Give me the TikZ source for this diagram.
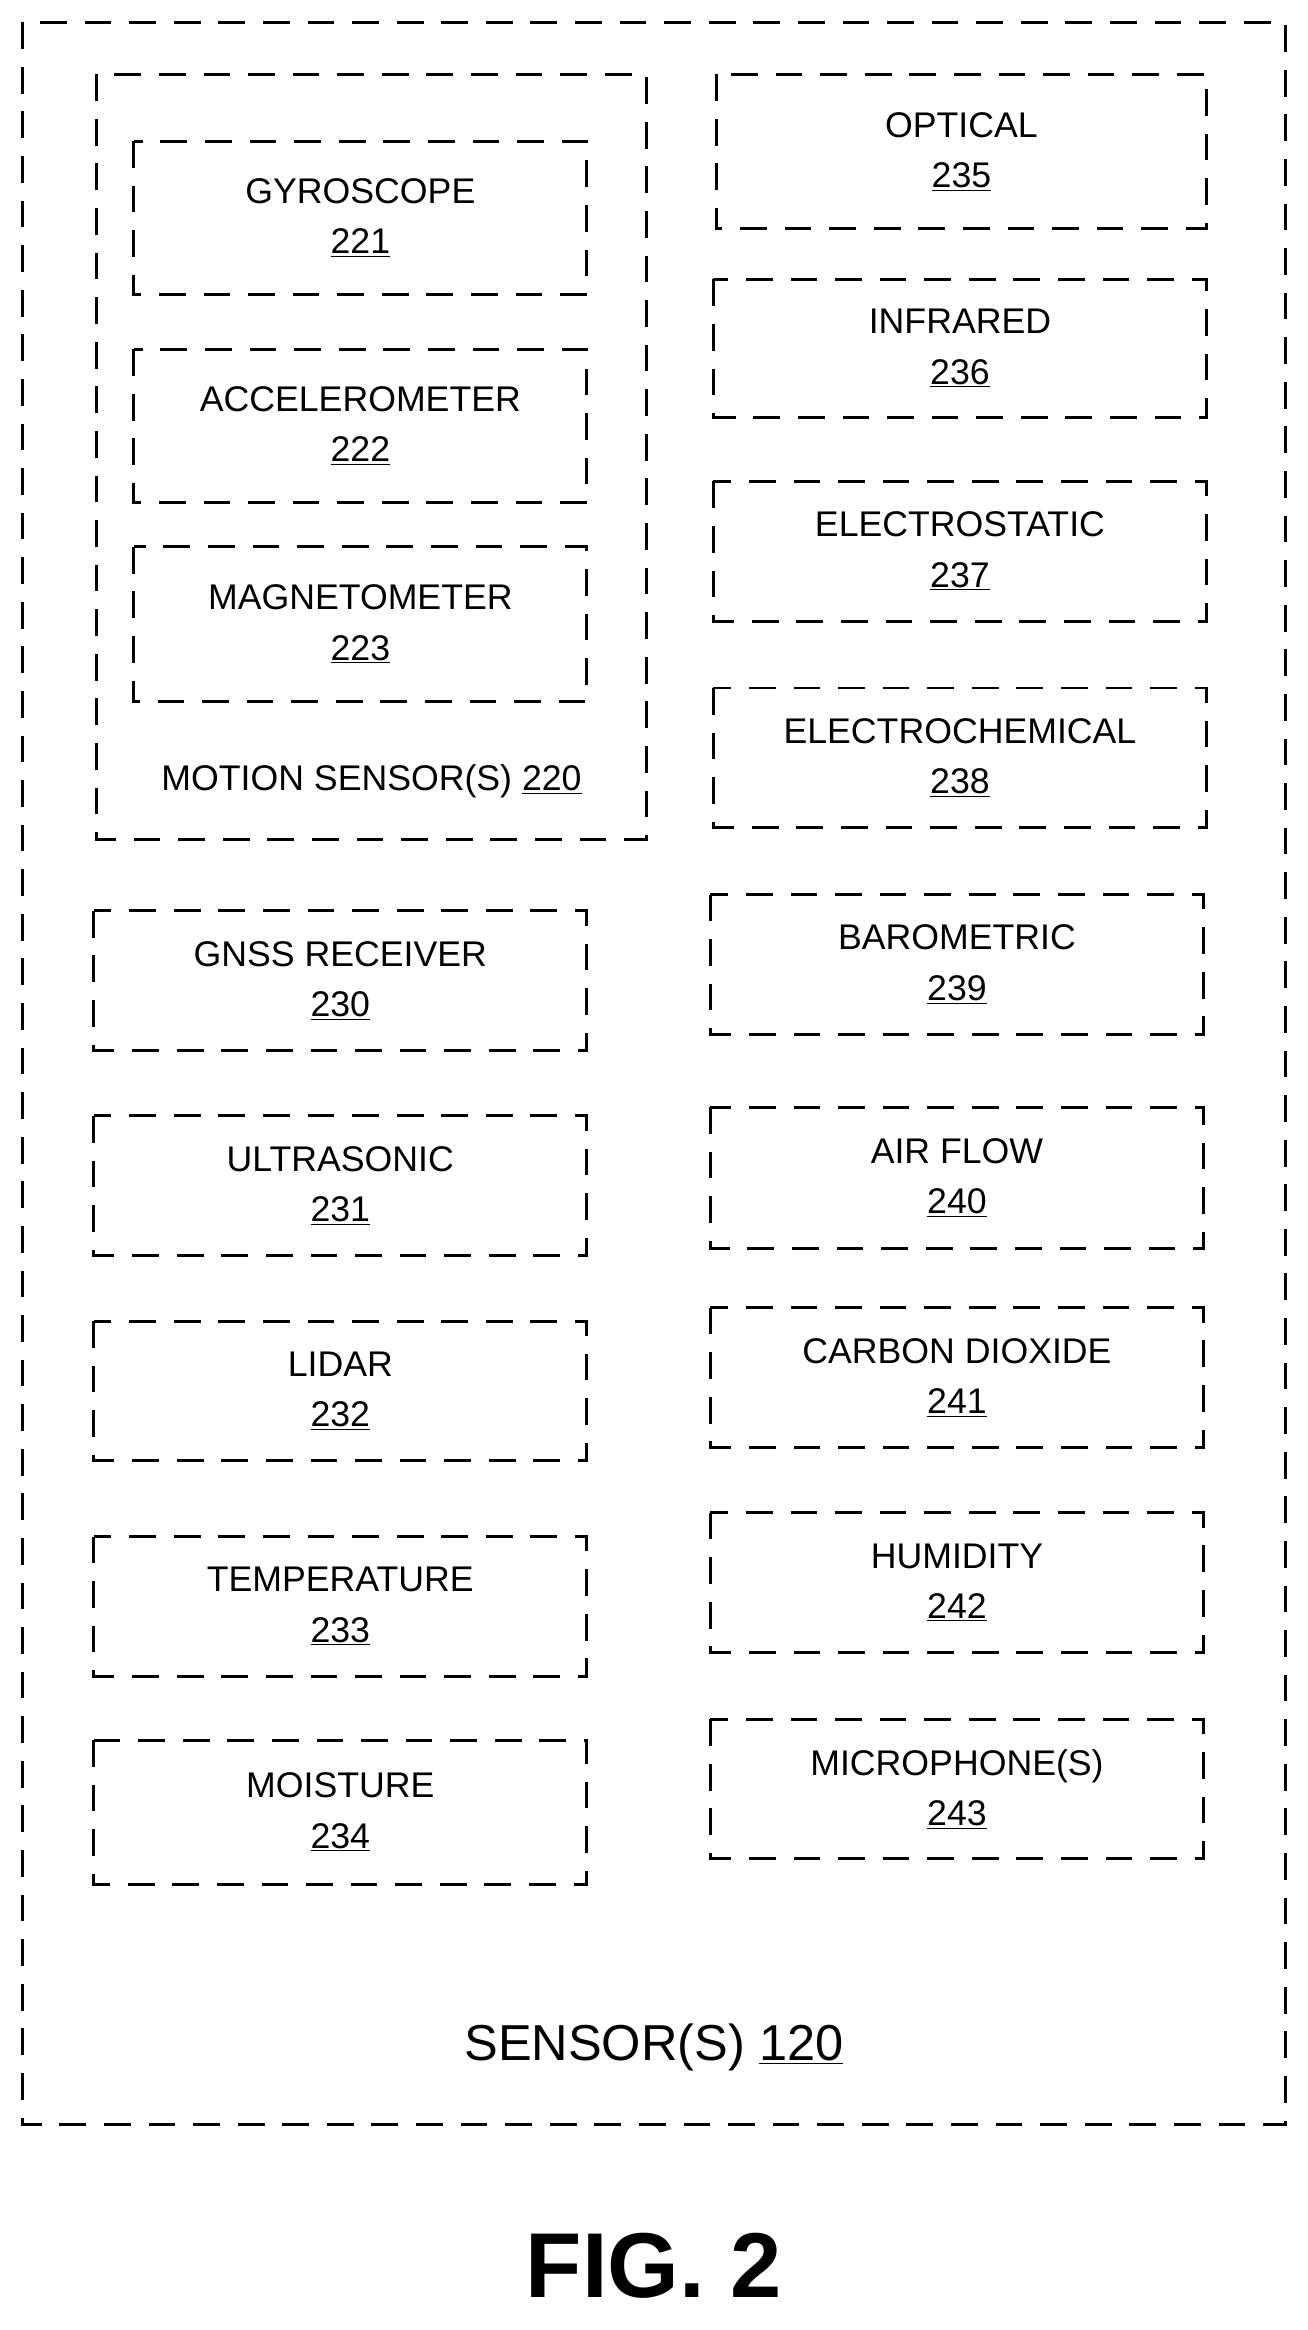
\documentclass[tikz,border=0pt]{standalone}
\usepackage{fontspec}
\setmainfont{Liberation Sans}
\begin{document}
\begin{tikzpicture}[x=1pt,y=-1pt,
    dbox/.style={draw,line width=2pt,dash pattern=on 18pt off 12pt},
    lbl/.style={align=center,font=\fontsize{24}{34}\selectfont}]
\useasboundingbox (0,0) rectangle (880,1568);
\newcommand{\sensorbox}[7]{%
  \draw[dbox] (#2,#3) rectangle (#4,#5);
  \node[lbl] (#1) at ({(#2+#4)/2},{(#3+#5)/2}) {#6\\\underline{#7}};}
% outer and motion group
\draw[dbox] (15,15) rectangle (865,1430);
\draw[dbox] (65,50) rectangle (435,565);
\node[lbl] (motion) at (250,526) {MOTION SENSOR(S) \underline{220}};
\sensorbox{gyro}{90}{95}{395}{198}{GYROSCOPE}{221}
\sensorbox{accel}{90}{235}{395}{338}{ACCELEROMETER}{222}
\sensorbox{magneto}{90}{368}{395}{472}{MAGNETOMETER}{223}
% left column
\sensorbox{gnss}{63}{613}{395}{707}{GNSS RECEIVER}{230}
\sensorbox{ultra}{63}{751}{395}{845}{ULTRASONIC}{231}
\sensorbox{lidar}{63}{889}{395}{983}{LIDAR}{232}
\sensorbox{temp}{63}{1034}{395}{1128}{TEMPERATURE}{233}
\sensorbox{moist}{63}{1171}{395}{1268}{MOISTURE}{234}
% right column
\sensorbox{optical}{482}{50}{812}{154}{OPTICAL}{235}
\sensorbox{infra}{480}{188}{812}{281}{INFRARED}{236}
\sensorbox{estat}{480}{324}{812}{418}{ELECTROSTATIC}{237}
\sensorbox{echem}{480}{463}{812}{557}{ELECTROCHEMICAL}{238}
\sensorbox{baro}{478}{602}{810}{696}{BAROMETRIC}{239}
\sensorbox{air}{478}{745}{810}{840}{AIR FLOW}{240}
\sensorbox{co2}{478}{880}{810}{974}{CARBON DIOXIDE}{241}
\sensorbox{humid}{478}{1018}{810}{1112}{HUMIDITY}{242}
\sensorbox{mic}{478}{1157}{810}{1251}{MICROPHONE(S)}{243}
\node[font=\fontsize{34}{40}\selectfont] (sensors) at (440,1378) {SENSOR(S) \underline{120}};
\node[font=\fontsize{62}{70}\selectfont\bfseries] (fig) at (440,1525) {FIG. 2};
\end{tikzpicture}
\end{document}
